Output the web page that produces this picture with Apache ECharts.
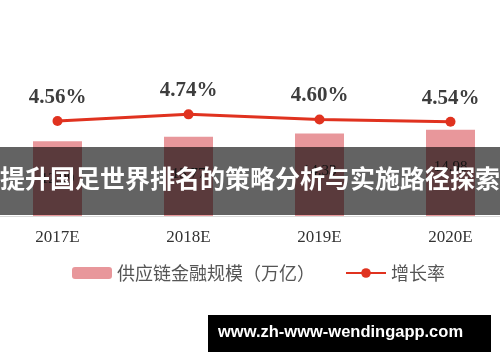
<!DOCTYPE html>
<html>
<head>
<meta charset="utf-8">
<script src="https://cdn.jsdelivr.net/npm/echarts@6/dist/echarts.min.js"></script>
<style>html,body{margin:0;padding:0;background:#fff;overflow:hidden;width:500px;height:362px;}#c{width:524px;height:362px;margin-left:-8px;}</style>
</head>
<body>
<div id="c"></div>
<script>
const categories = ['2017E', '2018E', '2019E', '2020E'];
const scaleValues = [12.99, 13.77, 14.33, 14.98];
const growthValues = [4.56, 4.74, 4.60, 4.54];
const seriesNames = ['供应链金融规模（万亿）', '增长率'];
const bannerText = '提升国足世界排名的策略分析与实施路径探索';
const watermarkText = 'www.zh-www-wendingapp.com';

const chart = echarts.init(document.getElementById('c'), null, {renderer: 'canvas'});
chart.setOption({
  backgroundColor: '#ffffff',
  animation: false,
  grid: {left: 0, right: 0, top: 101, bottom: 146, containLabel: false},
  legend: {
    data: [seriesNames[0], seriesNames[1]],
    left: 75, top: 259,
    itemWidth: 40, itemHeight: 12, itemGap: 30,
    textStyle: {fontSize: 18, color: '#555', fontFamily: 'Noto Sans CJK SC'}
  },
  xAxis: {
    type: 'category', data: categories,
    axisLine: {show: true, lineStyle: {color: '#d9d9d9', width: 1}},
    axisTick: {show: false},
    axisLabel: {fontSize: 17, color: '#333', fontFamily: 'Liberation Serif', margin: 13}
  },
  yAxis: [
    {type: 'value', min: 0, max: 20, show: false, splitLine: {show: false}},
    {type: 'value', min: 2, max: 5.1, show: false, splitLine: {show: false}}
  ],
  series: [
    {
      name: seriesNames[0], type: 'bar', data: scaleValues, barWidth: 49,
      itemStyle: {color: '#e8979b'},
      label: {show: true, position: 'insideTop', distance: 30, color: '#333', fontSize: 15, fontFamily: 'Liberation Serif'}
    },
    {
      name: seriesNames[1], type: 'line', yAxisIndex: 1, data: growthValues,
      symbol: 'circle', symbolSize: 10,
      lineStyle: {color: '#e0321f', width: 3},
      itemStyle: {color: '#e0321f'},
      label: {
        show: true, position: 'top', distance: 8,
        formatter: p => p.value.toFixed(2) + '%',
        fontSize: 21, fontWeight: 'bold', color: '#3d3d3d', fontFamily: 'Liberation Serif'
      }
    }
  ],
  graphic: [
    {type: 'rect', left: 0, top: 147, shape: {width: 524, height: 68}, style: {fill: 'rgba(0,0,0,0.61)'}, z: 100},
    {type: 'text', left: 8, top: 166, style: {text: bannerText, fill: '#fff', font: 'bold 25px "Noto Sans CJK SC"'}, z: 101},
    {type: 'rect', left: 216, top: 315, shape: {width: 283, height: 37}, style: {fill: '#000'}, z: 100},
    {type: 'text', left: 226, top: 324, style: {text: watermarkText, fill: '#fff', font: 'bold 16.5px "Liberation Sans"'}, z: 101}
  ]
});
</script>
</body>
</html>
